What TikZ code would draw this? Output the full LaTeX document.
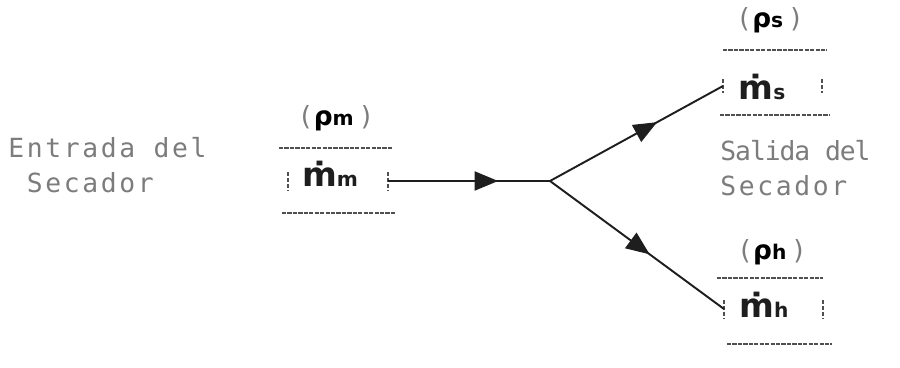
\documentclass[tikz,border=0pt]{standalone}
\usepackage{fontspec}
\setmainfont{DejaVu Sans}
\newfontfamily\dotfont[LetterSpace=10]{DejaVu Sans Mono}
\newfontfamily\dotnarrow[LetterSpace=-4]{DejaVu Sans Mono}
\usepackage{tikz}
\usetikzlibrary{arrows.meta,positioning,calc,decorations.markings}
\usepackage{xcolor}
\definecolor{dotgray}{HTML}{7C7C7C}
\definecolor{rulegray}{HTML}{505050}
\definecolor{inkblack}{HTML}{1E1E1E}
\newcommand{\subsz}{\fontsize{11.5pt}{11.5pt}\selectfont}

\begin{document}
\begin{tikzpicture}[x=0.02cm, y=-0.02cm,
    textlabel/.style={font=\dotfont\fontsize{15pt}{19.9pt}\selectfont, text=dotgray, align=left, inner sep=0pt, anchor=north west},
    density/.style={font=\fontsize{15pt}{15pt}\selectfont, inner sep=0pt},
    flowrate/.style={font=\bfseries\fontsize{19pt}{19pt}\selectfont, text=inkblack, inner sep=0pt, anchor=base},
    dotrule/.style={draw=rulegray, line width=0.9pt, dash pattern=on 2.4pt off 0.7pt},
    flowtick/.style={draw=rulegray, line width=0.8pt, dash pattern=on 2.2pt off 1.2pt},
    flowline/.style={draw=inkblack, line width=1.1pt, postaction={decorate},
      decoration={markings, mark=at position #1 with {\arrow{Triangle[length=0.47cm,width=0.38cm]}}}}]
    \useasboundingbox (0,0) rectangle (900,368);

    % texts
    \node[textlabel] (inlet) at (8,137) {Entrada del\\~Secador};
    \node[textlabel] (outlet) at (720,140) {{\dotnarrow Salida del}\\Secador};

    % mixture stream
    \node[density] (rhom) at (336,118) {{\color{dotgray}(}\hspace{1.5pt}{\bfseries ρ{\subsz m}}\hspace{4pt}{\color{dotgray})}};
    \node[flowrate] (mm) at (330,187) {ṁ{\subsz m}};
    \coordinate (mL) at (288,181);
    \coordinate (mR) at (388,181);
    \draw[dotrule] (279,148) -- (393,148);
    \draw[dotrule] (282,213) -- (395,213);

    % dry stream
    \node[density] (rhos) at (770,20) {{\color{dotgray}(}\hspace{1.5pt}{\bfseries ρ{\subsz s}}\hspace{4pt}{\color{dotgray})}};
    \node[flowrate] (ms) at (762,100) {ṁ{\subsz s}};
    \coordinate (sL) at (723,86);
    \coordinate (sR) at (822,86);
    \draw[dotrule] (723,50) -- (827,50);
    \draw[dotrule] (720,115) -- (830,115);

    % humid stream
    \node[density] (rhoh) at (772,252) {{\color{dotgray}(}\hspace{1.5pt}{\bfseries ρ{\subsz h}}\hspace{4pt}{\color{dotgray})}};
    \node[flowrate] (mh) at (764,317) {ṁ{\subsz h}};
    \coordinate (hL) at (724,309);
    \coordinate (hR) at (823,309);
    \draw[dotrule] (717,278) -- (823,278);
    \draw[dotrule] (727,344) -- (832,344);

    % ticks
    \draw[flowtick] ($(mL)+(0,-9)$) -- ($(mL)+(0,9)$);
    \draw[flowtick] ($(mR)+(0,-9)$) -- ($(mR)+(0,9)$);
    \draw[flowtick] ($(sL)+(0,-7)$) -- ($(sL)+(0,7)$);
    \draw[flowtick] ($(sR)+(0,-7)$) -- ($(sR)+(0,7)$);
    \draw[flowtick] ($(hL)+(0,-9)$) -- ($(hL)+(0,9)$);
    \draw[flowtick] ($(hR)+(0,-9)$) -- ($(hR)+(0,9)$);

    % connectors
    \coordinate (split) at (550,181);
    \draw[flowline=0.68] (mR) -- (split);
    \draw[flowline=0.62] (split) -- (sL);
    \draw[flowline=0.575] (split) -- (hL);
\end{tikzpicture}
\end{document}
